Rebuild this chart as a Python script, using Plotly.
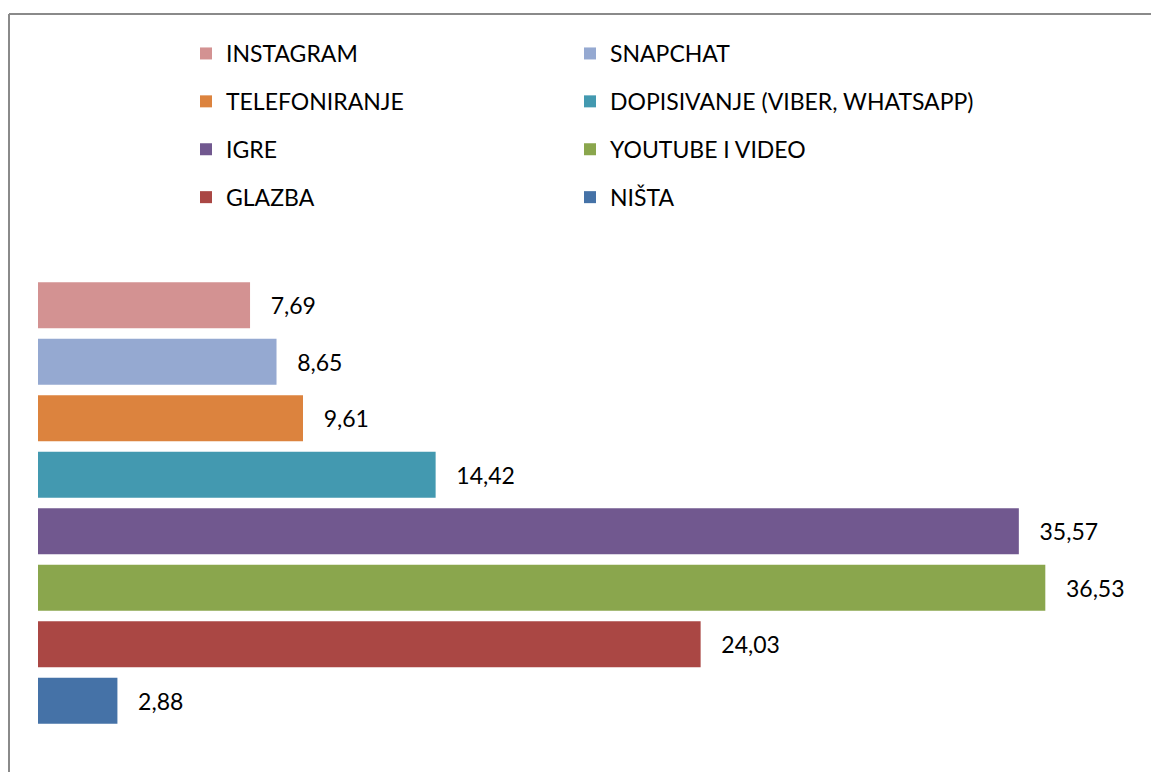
import plotly.graph_objects as go

categories = ["INSTAGRAM", "SNAPCHAT", "TELEFONIRANJE", "DOPISIVANJE (VIBER, WHATSAPP)",
              "IGRE", "YOUTUBE I VIDEO", "GLAZBA", "NIŠTA"]
values = [7.69, 8.65, 9.61, 14.42, 35.57, 36.53, 24.03, 2.88]
value_labels = ["7,69", "8,65", "9,61", "14,42", "35,57", "36,53", "24,03", "2,88"]
colors = ["#D39292", "#95A9D1", "#DC833E", "#4399B0", "#71588F", "#8AA64D", "#AA4744", "#4572A7"]
legend_column = ["legend", "legend2", "legend", "legend2", "legend", "legend2", "legend", "legend2"]

# page has an 8px body margin on every side, so the figure is sized to fit the window
W, H = 1143, 764
ML, MR, MT, MB = 30, 10, 269, 43
FONT = "Lato"

fig = go.Figure()
for cat, val, lab, col, lg in zip(categories, values, value_labels, colors, legend_column):
    fig.add_trace(go.Bar(
        y=[cat], x=[val], orientation="h", name=cat,
        marker=dict(color=col, line=dict(width=0)),
        text=["\u00a0\u00a0\u00a0" + lab], textposition="outside",
        textfont=dict(family=FONT, size=23, color="#000000"),
        cliponaxis=False, legend=lg, legendgroup=cat,
        hoverinfo="skip",
    ))

pw = W - ML - MR
ph = H - MT - MB
def px_x(p):
    return (p - ML) / pw
def px_y(p):
    return (H - MB - p) / ph

legend_common = dict(
    xref="container", yref="container", xanchor="left", yanchor="top",
    font=dict(family=FONT, size=23, color="#000000"),
    tracegroupgap=15, bgcolor="rgba(0,0,0,0)", borderwidth=0,
    itemclick=False, itemdoubleclick=False, orientation="v",
)

border = dict(color="#8A8A8A", width=2)

fig.update_layout(
    width=W, height=H,
    margin=dict(l=ML, r=MR, t=MT, b=MB, autoexpand=False),
    paper_bgcolor="white", plot_bgcolor="white",
    barmode="overlay", bargap=0.19,
    showlegend=True,
    legend=dict(x=178 / W, y=1 - 24 / H, **legend_common),
    legend2=dict(x=562 / W, y=1 - 24 / H, **legend_common),
    xaxis=dict(range=[0, 40], visible=False, fixedrange=True),
    yaxis=dict(categoryorder="array", categoryarray=categories, autorange="reversed",
               visible=False, fixedrange=True),
    shapes=[
        dict(type="line", xref="paper", yref="paper",
             x0=px_x(1), x1=px_x(W), y0=px_y(6), y1=px_y(6), line=border, layer="below"),
        dict(type="line", xref="paper", yref="paper",
             x0=px_x(1), x1=px_x(1), y0=px_y(6), y1=px_y(H), line=border, layer="below"),
    ],
)

fig.write_html("out.html")
